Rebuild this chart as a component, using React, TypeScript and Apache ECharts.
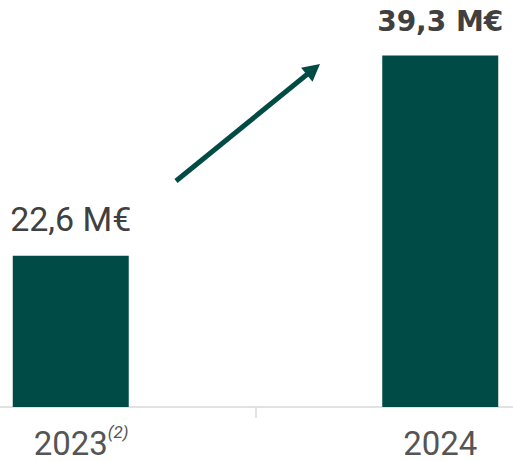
import React, { useEffect, useRef } from "react";
import * as echarts from "echarts";

const categories = ["2023", "2024"];
const values = [22.6, 39.3];
const valueLabels = ["22,6 M€", "39,3 M€"];
const footnotes = ["(2)", ""];

const GREEN = "#004B45";
const TEXT = "#404040";
const AXIS_TEXT = "#555555";

export default function App() {
  const ref = useRef<HTMLDivElement>(null);
  useEffect(() => {
    const chart = echarts.init(ref.current!, null, { renderer: "svg" });
    chart.setOption({
      animation: false,
      backgroundColor: "#ffffff",
      grid: {
        left: -114,
        right: -112,
        top: 47,
        bottom: 54,
        containLabel: false,
        outerBoundsMode: "none",
      },
      xAxis: [
        {
          type: "category",
          data: categories,
          axisLine: { lineStyle: { color: "#d9d9d9", width: 1.5 } },
          axisTick: { show: true, length: 11, lineStyle: { color: "#d9d9d9", width: 1.5 } },
          axisLabel: {
            margin: 21,
            fontFamily: "Roboto",
            fontSize: 33,
            lineHeight: 30,
            color: AXIS_TEXT,
          },
        },
        {
          type: "category",
          position: "bottom",
          data: categories,
          axisLine: { show: false },
          axisTick: { show: false },
          axisLabel: {
            margin: 16,
            align: "left",
            padding: [0, 0, 0, 37],
            formatter: (_v: string, i: number) => footnotes[i],
            fontFamily: "Roboto",
            fontSize: 17,
            fontStyle: "italic",
            color: AXIS_TEXT,
          },
        },
      ],
      yAxis: { type: "value", min: 10, max: 40, show: false, splitLine: { show: false } },
      series: [
        {
          type: "bar",
          barWidth: 116,
          itemStyle: { color: GREEN },
          data: values.map((v, i) => ({
            value: v,
            label: {
              show: true,
              position: "top",
              distance: 20,
              formatter: valueLabels[i],
              fontFamily: i === 1 ? "DejaVu Sans" : "Roboto",
              fontSize: i === 1 ? 28 : 34,
              fontWeight: i === 1 ? "bold" : "normal",
              color: TEXT,
            },
          })),
        },
      ],
      graphic: [
        {
          type: "line",
          shape: { x1: 176, y1: 181, x2: 310, y2: 72 },
          style: { stroke: GREEN, lineWidth: 5 },
        },
        {
          type: "polygon",
          shape: { points: [[320, 64], [312.5, 81.7], [301.1, 67.7]] },
          style: { fill: GREEN },
        },
      ],
    });
    return () => chart.dispose();
  }, []);
  return (
    <div
      ref={ref}
      style={{ position: "fixed", left: 0, top: 0, width: 513, height: 461 }}
    />
  );
}
